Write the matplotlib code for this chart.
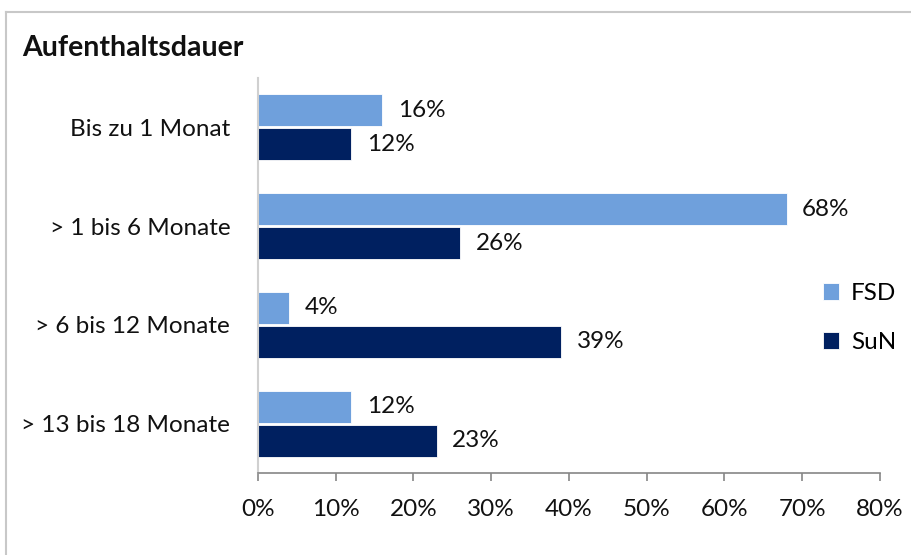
import matplotlib
matplotlib.use("Agg")
import matplotlib.pyplot as plt
from matplotlib.lines import Line2D

plt.rcParams['font.family'] = ['Lato', 'DejaVu Sans']

# data
categories = ['Bis zu 1 Monat', '> 1 bis 6 Monate', '> 6 bis 12 Monate', '> 13 bis 18 Monate']
fsd = [16, 68, 4, 12]
sun = [12, 26, 39, 23]
series_names = ['FSD', 'SuN']
colors = ['#6FA0DC', '#002060']
xticks = [0, 10, 20, 30, 40, 50, 60, 70, 80]

fs = 17.5
fig = plt.figure(figsize=(9.12, 5.55), dpi=100)
ax = fig.add_axes([258/912, 1-473/555, (880-258)/912, (473-78)/555])

h = 0.325
off = 0.172
pos = list(range(len(categories)))
for vals, name, c, sign in [(fsd, series_names[0], colors[0], -1), (sun, series_names[1], colors[1], 1)]:
    ys = [p + sign*off for p in pos]
    ax.barh(ys, vals, height=h, color=c, label=name, edgecolor='white', linewidth=0.6)
    for y, v in zip(ys, vals):
        ax.annotate(f'{v}%', (v, y), xytext=(11, 0), textcoords='offset points',
                    va='center', ha='left', fontsize=fs, color='#111111')

ax.set_ylim(3.5, -0.5)
ax.set_xlim(0, 80)
ax.set_xticks(xticks)
ax.set_xticklabels([f'{t}%' for t in xticks], fontsize=fs, color='#111111')
ax.set_yticks(pos)
ax.set_yticklabels(categories, fontsize=fs, color='#111111')
ax.tick_params(axis='y', length=0, pad=20)
ax.tick_params(axis='x', length=6, color='#868686', width=1.2, pad=13)
for s in ['top', 'right']:
    ax.spines[s].set_visible(False)
ax.spines['left'].set_color('#D0D0D0')
ax.spines['left'].set_linewidth(1.5)
ax.spines['bottom'].set_color('#868686')
ax.spines['bottom'].set_linewidth(1.2)

fig.text(22/912, 1-48/555, 'Aufenthaltsdauer', fontsize=20.5, fontweight='bold',
         va='center', ha='left', color='#111111')

leg = fig.legend(loc='center left', bbox_to_anchor=(801/912, 1-318/555), frameon=False,
                 fontsize=fs, handlelength=0.65, handleheight=0.65, labelspacing=1.15,
                 handletextpad=0.5)

# outer frame (top and left edges visible)
fig.add_artist(Line2D([6/912, 1], [1-12/555, 1-12/555], transform=fig.transFigure, color='#C8C8C8', lw=1.5))
fig.add_artist(Line2D([6/912, 6/912], [0, 1-12/555], transform=fig.transFigure, color='#C8C8C8', lw=1.5))

fig.savefig('out.png', dpi=100)
